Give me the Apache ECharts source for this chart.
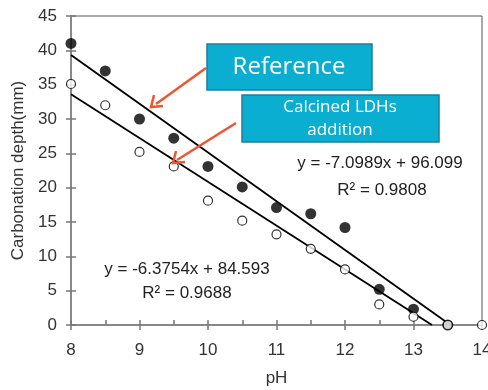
<!DOCTYPE html>
<html><head><meta charset="utf-8">
<script src="https://cdn.jsdelivr.net/npm/echarts@6/dist/echarts.min.js"></script>
<style>html,body{margin:0;padding:0;background:#fff}#c{width:488px;height:390px}</style>
</head><body><div id="c"></div>
<script>
const phValues = [8, 8.5, 9, 9.5, 10, 10.5, 11, 11.5, 12, 12.5, 13, 13.5, 14];
const referenceDepth = [41, 37, 30, 27.2, 23.1, 20.1, 17.1, 16.2, 14.2, 5.2, 2.3, 0];
const ldhDepth = [35.1, 32, 25.2, 23.1, 18.1, 15.2, 13.2, 11.1, 8.1, 3, 1.2, 0, 0];
const referenceFit = [[8, 39.31], [13.54, 0]];
const ldhFit = [[8, 33.59], [13.27, 0]];
const xTicks = [8, 9, 10, 11, 12, 13, 14];

const chart = echarts.init(document.getElementById('c'));
const font = 'Liberation Sans, Arial, sans-serif';
const grid = {left: 71, right: 6, top: 16, bottom: 65};
chart.setOption({
  animation: false,
  grid: Object.assign({show: true, borderColor: '#555', borderWidth: 1, backgroundColor: 'transparent', containLabel: false, outerBoundsMode: 'none'}, grid),
  xAxis: [{
    type: 'value', min: 8, max: 14, interval: 1,
    name: 'pH', nameLocation: 'middle', nameGap: 45,
    nameTextStyle: {fontFamily: font, fontSize: 17, color: '#333'},
    axisLine: {onZero: false, lineStyle: {color: '#888', width: 2}},
    axisTick: {show: true, length: 5, lineStyle: {color: '#777', width: 1.5}},
    axisLabel: {fontFamily: font, fontSize: 17, color: '#333', margin: 17,
      formatter: v => xTicks.includes(v) ? String(v) : ''},
    splitLine: {show: false}
  }, {
    type: 'value', min: 8, max: 14, interval: 0.5, position: 'bottom',
    axisLine: {show: false},
    axisTick: {show: true, inside: true, length: 5, lineStyle: {color: '#777', width: 1.5}},
    axisLabel: {show: false}, splitLine: {show: false}
  }],
  yAxis: [{
    type: 'value', min: 0, max: 45, interval: 5,
    name: 'Carbonation depth(mm)', nameLocation: 'middle', nameGap: 41,
    nameTextStyle: {fontFamily: font, fontSize: 17, color: '#333'},
    axisLine: {show: true, lineStyle: {color: '#888', width: 2}},
    axisTick: {show: true, length: 5, lineStyle: {color: '#777', width: 1.5}},
    axisLabel: {fontFamily: font, fontSize: 17, color: '#333', margin: 14},
    splitLine: {show: false}
  }, {
    type: 'value', min: 0, max: 45, interval: 5, position: 'left',
    axisLine: {show: false},
    axisTick: {show: true, inside: true, length: 5, lineStyle: {color: '#777', width: 1.5}},
    axisLabel: {show: false}, splitLine: {show: false}
  }],
  series: [
    {type: 'line', data: referenceFit, symbol: 'none', lineStyle: {color: '#000', width: 1.8}, z: 2},
    {type: 'line', data: ldhFit, symbol: 'none', lineStyle: {color: '#000', width: 1.8}, z: 2},
    {type: 'scatter', data: referenceDepth.map((v, i) => [phValues[i], v]), symbol: 'circle', symbolSize: 11,
      itemStyle: {color: '#000'}, z: 3},
    {type: 'scatter', data: ldhDepth.map((v, i) => [phValues[i], v]), symbol: 'circle', symbolSize: 9,
      itemStyle: {color: '#fff', borderColor: '#000', borderWidth: 1.2}, z: 4}
  ],
  graphic: [
    {type: 'rect', shape: {x: 207, y: 44, width: 165, height: 46}, style: {fill: '#0aaed0', stroke: '#1d7f9a', lineWidth: 1.5}, z: 10},
    {type: 'text', x: 289, y: 67, style: {text: 'Reference', fill: '#fff', font: '24px "Open Sans", sans-serif', align: 'center', verticalAlign: 'middle'}, z: 11},
    {type: 'rect', shape: {x: 242, y: 95, width: 197, height: 47}, style: {fill: '#0aaed0', stroke: '#1d7f9a', lineWidth: 1.5}, z: 10},
    {type: 'text', x: 340, y: 119, style: {text: 'Calcined LDHs\naddition', fill: '#fff', font: '17px "Open Sans", sans-serif', align: 'center', verticalAlign: 'middle', lineHeight: 23}, z: 11},
    {type: 'line', shape: {x1: 206, y1: 68, x2: 156, y2: 104}, style: {stroke: '#ee5530', lineWidth: 2.5}, z: 10},
    {type: 'polyline', shape: {points: [[154, 95], [151, 107], [163, 106]]}, style: {stroke: '#ee5530', lineWidth: 2.5, fill: null}, z: 10},
    {type: 'line', shape: {x1: 236, y1: 123, x2: 177, y2: 160}, style: {stroke: '#ee5530', lineWidth: 2.5}, z: 10},
    {type: 'polyline', shape: {points: [[176, 151], [173, 163], [185, 162]]}, style: {stroke: '#ee5530', lineWidth: 2.5, fill: null}, z: 10},
    {type: 'text', x: 380, y: 163, style: {text: 'y = -7.0989x + 96.099', fill: '#222', font: '17px "Liberation Sans", Arial, sans-serif', align: 'center', verticalAlign: 'middle'}, z: 11},
    {type: 'text', x: 382, y: 190, style: {text: 'R² = 0.9808', fill: '#222', font: '17px "Liberation Sans", Arial, sans-serif', align: 'center', verticalAlign: 'middle'}, z: 11},
    {type: 'text', x: 187, y: 269, style: {text: 'y = -6.3754x + 84.593', fill: '#222', font: '17px "Liberation Sans", Arial, sans-serif', align: 'center', verticalAlign: 'middle'}, z: 11},
    {type: 'text', x: 187, y: 293, style: {text: 'R² = 0.9688', fill: '#222', font: '17px "Liberation Sans", Arial, sans-serif', align: 'center', verticalAlign: 'middle'}, z: 11}
  ]
});
</script></body></html>
